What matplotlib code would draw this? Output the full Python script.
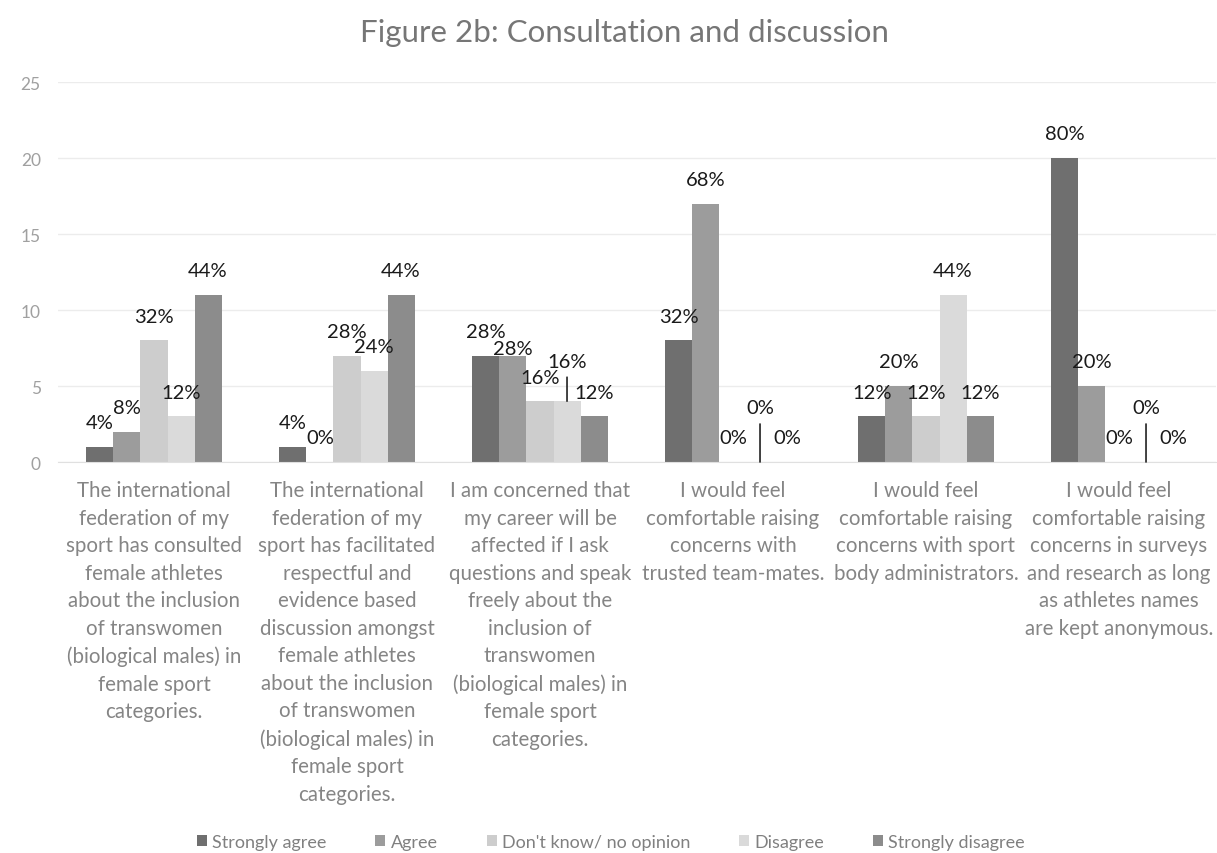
import matplotlib
matplotlib.use('Agg')
import matplotlib.pyplot as plt
import numpy as np

# survey responses (number of athletes out of 25)
n_respondents = 25
categories = [
    'The international\nfederation of my\nsport has consulted\nfemale athletes\nabout the inclusion\nof transwomen\n(biological males) in\nfemale sport\ncategories.',
    'The international\nfederation of my\nsport has facilitated\nrespectful and\nevidence based\ndiscussion amongst\nfemale athletes\nabout the inclusion\nof transwomen\n(biological males) in\nfemale sport\ncategories.',
    'I am concerned that\nmy career will be\naffected if I ask\nquestions and speak\nfreely about the\ninclusion of\ntranswomen\n(biological males) in\nfemale sport\ncategories.',
    'I would feel\ncomfortable raising\nconcerns with\ntrusted team-mates.',
    'I would feel\ncomfortable raising\nconcerns with sport\nbody administrators.',
    'I would feel\ncomfortable raising\nconcerns in surveys\nand research as long\nas athletes names\nare kept anonymous.',
]
series = ['Strongly agree', 'Agree', "Don't know/ no opinion", 'Disagree', 'Strongly disagree']
strongly_agree = [1, 1, 7, 8, 3, 20]
agree = [2, 0, 7, 17, 5, 5]
dont_know = [8, 7, 4, 0, 3, 0]
disagree = [3, 6, 4, 0, 11, 0]
strongly_disagree = [11, 11, 3, 0, 3, 0]
counts = [strongly_agree, agree, dont_know, disagree, strongly_disagree]

colors = ['#6f6f6f', '#9c9c9c', '#cdcdcd', '#dadada', '#8c8c8c']

# labels that were dragged off their default spot: (category, series) -> (dx, dy, leader)
label_moves = {
    (2, 1): (0, -17, False),
    (2, 3): (0, 16, True),
    (3, 3): (0, 30, True),
    (5, 3): (0, 30, True),
}

plt.rcParams['font.family'] = ['Lato', 'DejaVu Sans']

fig = plt.figure(figsize=(12.17, 8.54), dpi=100)
ax = fig.add_axes([57.5 / 1217, 1 - 463 / 854, 1158 / 1217, 380 / 854])

x = np.arange(len(categories))
width = 0.14
for j, (name, vals) in enumerate(zip(series, counts)):
    pos = x + (j - 2) * width
    ax.bar(pos, vals, width, color=colors[j], label=name, zorder=2)
    for i, v in enumerate(vals):
        dx, dy, leader = label_moves.get((i, j), (0, 0, False))
        pct = f'{v / n_respondents * 100:.0f}%'
        ax.annotate(pct, (pos[i], v), xytext=(dx, 24 + dy), textcoords='offset pixels',
                    ha='center', va='center', fontsize=14.5, color='#1a1a1a', zorder=3)
        if leader:
            ax.annotate('', (pos[i], v), xytext=(0, 24 + dy - 16), textcoords='offset pixels',
                        arrowprops=dict(arrowstyle='-', color='#222222', lw=1.2,
                                        shrinkA=0, shrinkB=0))

ax.set_xlim(-0.5, len(categories) - 0.5)
ax.set_ylim(0, 25)
ax.set_yticks([0, 5, 10, 15, 20, 25])
ax.tick_params(axis='y', length=0, pad=12, labelsize=12.5, labelcolor='#a0a0a0')
ax.set_xticks(x, categories)
ax.tick_params(axis='x', length=0, pad=13, labelsize=14.8, labelcolor='#858585')
for lbl in ax.get_xticklabels():
    lbl.set_linespacing(1.47)
    lbl.set_verticalalignment('top')
ax.grid(axis='y', color='#ececec', lw=1, zorder=0)
for side in ['top', 'right', 'left']:
    ax.spines[side].set_visible(False)
ax.spines['bottom'].set_color('#e0e0e0')

fig.text(0.513, 1 - 33 / 854, 'Figure 2b: Consultation and discussion', ha='center', va='center',
         fontsize=22.5, color='#767676')

fig.legend(loc='center', bbox_to_anchor=(0.502, 1 - 843 / 854), ncol=5, frameon=False,
           fontsize=13, labelcolor='#808080', handlelength=0.55, handleheight=0.55,
           handletextpad=0.3, columnspacing=2.7)

fig.savefig('out.png', dpi=100, facecolor='white')
